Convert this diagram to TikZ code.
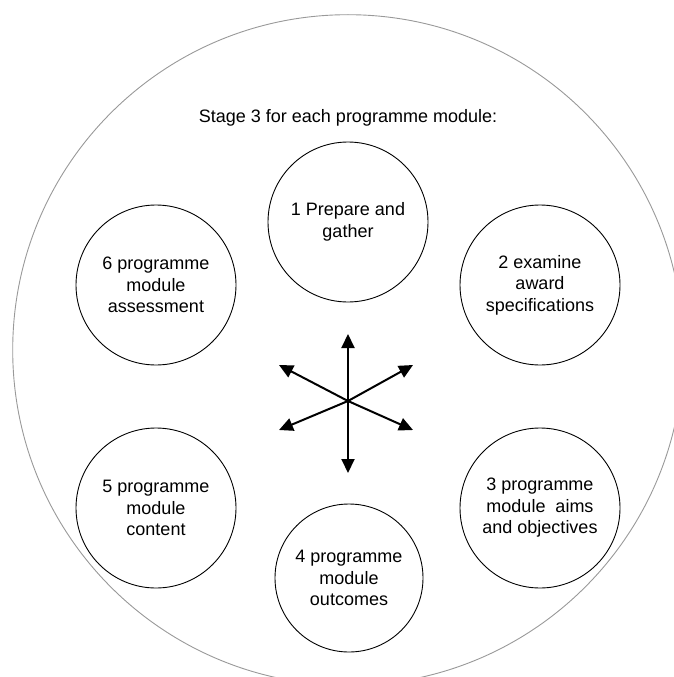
\documentclass[tikz,border=0pt]{standalone}
\usepackage{fontspec}
\setmainfont{Liberation Sans}
\usetikzlibrary{arrows.meta}
\begin{document}
\begin{tikzpicture}[x=1pt,y=-1pt,
  txt/.style={font=\fontsize{18}{21.5}\selectfont, align=center, text=black},
  stagecircle/.style={circle, draw=black, line width=0.9pt, minimum size=160pt, inner sep=0pt, txt},
  outer/.style={circle, draw=black!40, line width=0.9pt, minimum size=670.6pt, inner sep=0pt},
  spoke/.style={line width=2pt, -{Triangle[length=14pt,width=13pt]}}]
\useasboundingbox (0,0) rectangle (673,677);
\node[outer] (outer) at (348,350) {};
\node[txt] (title) at (348,118) {Stage 3 for each programme module:};
\node[stagecircle] (s1) at (348,222) {1 Prepare and\\gather};
\node[stagecircle] (s2) at (540,285) {2 examine\\award\\specifications};
\node[stagecircle] (s3) at (540,508) {3 programme\\module\ \ aims\\and objectives};
\node[stagecircle, minimum size=148pt] (s4) at (349,578) {4 programme\\module\\outcomes};
\node[stagecircle] (s5) at (156,508) {5 programme\\module\\content};
\node[stagecircle] (s6) at (156,285) {6 programme\\module\\assessment};
\coordinate (hub) at (348,401);
\coordinate (tN) at (348,334);
\coordinate (tS) at (348,473);
\coordinate (tNW) at (279,365);
\coordinate (tNE) at (413,365);
\coordinate (tSW) at (279,430);
\coordinate (tSE) at (413,430);
\foreach \t in {tN,tS,tNW,tNE,tSW,tSE} \draw[spoke] (hub) -- (\t);
\end{tikzpicture}
\end{document}
